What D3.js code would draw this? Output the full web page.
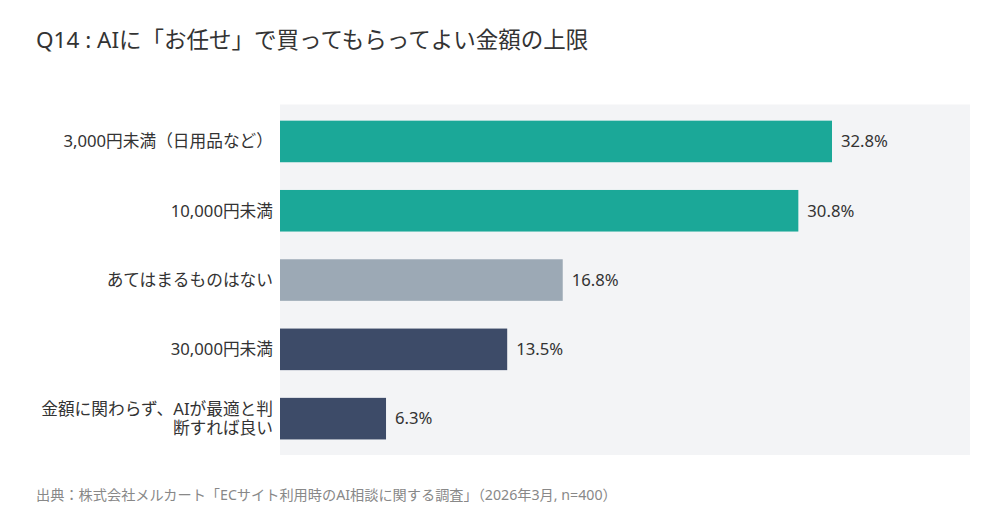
<!DOCTYPE html>
<html><head><meta charset="utf-8">
<script src="https://cdn.jsdelivr.net/npm/d3@7"></script>
<style>
body{margin:0;background:#fff;}
svg text{font-family:"Noto Sans","Noto Sans CJK JP",sans-serif;}
</style></head>
<body><svg id="c" width="1000" height="527"></svg>
<script>
const title = "Q14 : AIに「お任せ」で買ってもらってよい金額の上限";
const source = "出典：株式会社メルカート「ECサイト利用時のAI相談に関する調査」（2026年3月, n=400）";
const categories = ["3,000円未満（日用品など）","10,000円未満","あてはまるものはない","30,000円未満","金額に関わらず、AIが最適と判断すれば良い"];
const labelLines = [["3,000円未満（日用品など）"],["10,000円未満"],["あてはまるものはない"],["30,000円未満"],["金額に関わらず、AIが最適と判","断すれば良い"]];
const values = [32.8, 30.8, 16.8, 13.5, 6.3];
const colors = ["#1ba898","#1ba898","#9ca9b5","#3d4b68","#3d4b68"];

const svg = d3.select("#c");
const plot = {x0:280, x1:970, y0:104.5, y1:455};

svg.append("text").attr("x",36).attr("y",48).attr("font-size",22.5).attr("fill","#333").text(title);

svg.append("rect").attr("x",plot.x0).attr("y",plot.y0).attr("width",plot.x1-plot.x0).attr("height",plot.y1-plot.y0).attr("fill","#f3f4f6");

const x = d3.scaleLinear().domain([0, d3.max(values)*1.25]).range([plot.x0, plot.x1]);
const y = d3.scaleBand().domain(categories).range([106.8, 453.3]).paddingInner(0.4).paddingOuter(0.2);

svg.selectAll("rect.bar").data(categories).join("rect").attr("class","bar")
  .attr("x",x(0)).attr("y",d=>y(d)).attr("height",y.bandwidth())
  .attr("width",(d,i)=>x(values[i])-x(0)).attr("fill",(d,i)=>colors[i]);

svg.selectAll("text.val").data(categories).join("text").attr("class","val")
  .attr("x",(d,i)=>x(values[i])+9).attr("y",d=>y(d)+y.bandwidth()/2)
  .attr("dy","0.35em").attr("font-size",16.7).attr("fill","#333")
  .text((d,i)=>values[i].toFixed(1)+"%");

const fs = 16.7, lh = 18.5;
const lg = svg.selectAll("text.lab").data(categories).join("text").attr("class","lab")
  .attr("text-anchor","end").attr("font-size",fs).attr("fill","#333");
lg.each(function(d,i){
  const lines = labelLines[i];
  const c = y(d)+y.bandwidth()/2;
  const first = c - (lines.length-1)*lh/2 + fs*0.35;
  d3.select(this).selectAll("tspan").data(lines).join("tspan")
    .attr("x",273).attr("y",(l,j)=> first + j*lh).text(l=>l);
});

svg.append("text").attr("x",36).attr("y",500).attr("font-size",14.2).attr("fill","#888").text(source);
</script></body></html>
